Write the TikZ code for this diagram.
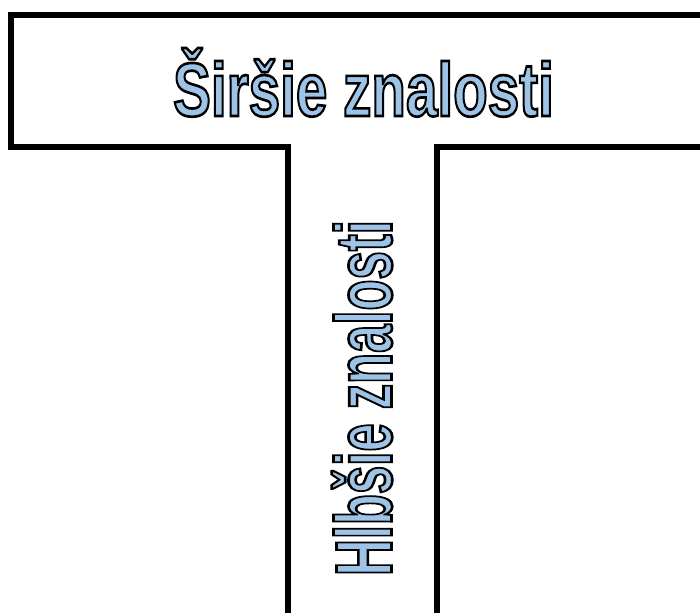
\documentclass[tikz,border=0pt]{standalone}
\usepackage{fontspec}
\setmainfont{Liberation Sans}
\usepackage{xcolor}
\definecolor{wordblue}{RGB}{157,195,230}
% blue letters with a black outline (fill, then stroke)
\newcommand{\outlinetxt}[1]{\special{pdf:literal direct q 0 0 0 RG 2 Tr 2 w}#1\special{pdf:literal direct Q}}

\begin{document}
\begin{tikzpicture}[x=0.75pt,y=-0.75pt,line join=miter,
  tframe/.style={line width=4.2pt},
  widetxt/.style={font=\fontsize{57}{60}\selectfont\bfseries,text=wordblue,xscale=0.745,inner sep=0pt,anchor=base},
  deeptxt/.style={font=\fontsize{60}{63}\selectfont\bfseries,text=wordblue,rotate=90,xscale=0.635,inner sep=0pt,anchor=base}]
\useasboundingbox (0,0) rectangle (700,612);
\begin{scope}
\clip (0,0) rectangle (700,612);
\draw[tframe] (720,15) -- (11,15) -- (11,147) -- (288,147) -- (288,630);
\draw[tframe] (437,630) -- (437,147) -- (720,147);
\end{scope}
\node[widetxt] (wide) at (363.5,116) {\outlinetxt{Širšie znalosti}};
\node[deeptxt] (deep) at (391.5,398) {\outlinetxt{Hlbšie znalosti}};
\end{tikzpicture}
\end{document}
